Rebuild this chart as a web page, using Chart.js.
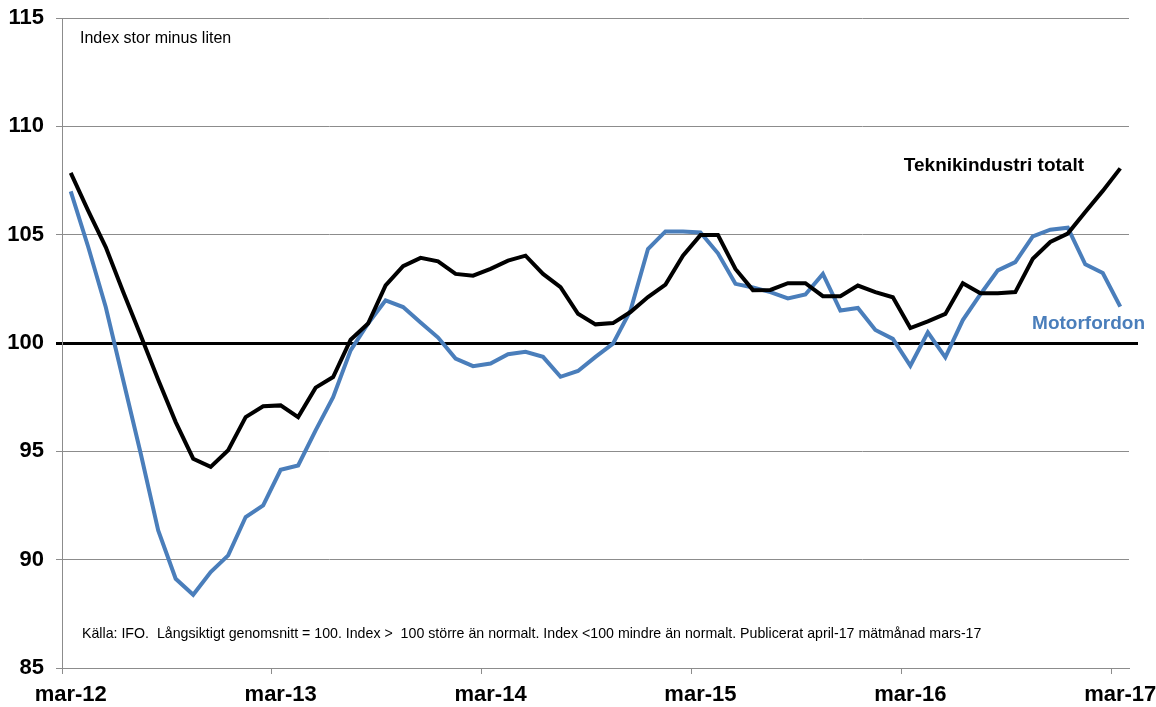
<!DOCTYPE html>
<html>
<head>
<meta charset="utf-8">
<script src="https://cdn.jsdelivr.net/npm/chart.js@4.4.1/dist/chart.umd.min.js"></script>
<style>
  html, body { margin: 0; padding: 0; background: #fff; }
  #wrap { position: relative; width: 1156px; height: 707px; }
</style>
</head>
<body>
<div id="wrap"><canvas id="ifo_chart" width="1156" height="707"></canvas></div>
<script>
// manader mar-12 .. mar-17
var month_names = ['jan','feb','mar','apr','maj','jun','jul','aug','sep','okt','nov','dec'];
var months = [];
for (var y = 12; y <= 17; y++) {
    for (var m = 0; m < 12; m++) {
        if (y == 12 && m < 2) continue;
        if (y == 17 && m > 2) continue;
        months.push(month_names[m] + '-' + y);
    }
}

var teknik_totalt = [
    107.85, 106.1, 104.43, 102.35, 100.35, 98.3, 96.35, 94.66, 94.28, 95.05,
    96.58, 97.08, 97.12, 96.58, 97.94, 98.43, 100.15, 100.9, 102.66, 103.55,
    103.93, 103.77, 103.19, 103.11, 103.42, 103.8, 104.03, 103.19, 102.58, 101.35,
    100.86, 100.92, 101.43, 102.12, 102.7, 104.03, 104.98, 104.98, 103.42, 102.44,
    102.45, 102.76, 102.76, 102.16, 102.16, 102.65, 102.35, 102.11, 100.69, 101.0,
    101.34, 102.76, 102.3, 102.3, 102.35, 103.89, 104.66, 105.05, 106.05, 107.02,
    108.06
];
var motorfordon = [
    107.0, 104.43, 101.66, 98.28, 94.9, 91.35, 89.12, 88.38, 89.43, 90.2,
    91.97, 92.5, 94.15, 94.35, 95.97, 97.5, 99.66, 100.9, 101.97, 101.66,
    100.95, 100.25, 99.28, 98.93, 99.05, 99.48, 99.59, 99.36, 98.44, 98.71,
    99.36, 99.97, 101.5, 104.34, 105.15, 105.15, 105.1, 104.14, 102.73, 102.56,
    102.35, 102.06, 102.24, 103.19, 101.5, 101.62, 100.6, 100.19, 98.95, 100.49,
    99.34, 101.06, 102.24, 103.35, 103.73, 104.92, 105.23, 105.32, 103.63, 103.23,
    101.68
];
var y_ticks = [85, 90, 95, 100, 105, 110, 115];

var blue = '#4a7ebb';
var grey = '#8c8c8c';

// texter i diagrammet
var text_plugin = {
    id: 'texts',
    afterDraw: function(chart) {
        var ctx = chart.ctx;
        var area = chart.chartArea;
        var ys = chart.scales.y;
        ctx.save();
        // 100-linjen fortsatter lite till hoger
        var y100 = Math.round(ys.getPixelForValue(100) - 1.5) + 1.5;
        ctx.strokeStyle = '#000';
        ctx.lineWidth = 3;
        ctx.beginPath();
        ctx.moveTo(area.right - 1, y100);
        ctx.lineTo(area.right + 9, y100);
        ctx.stroke();

        ctx.fillStyle = '#000';
        ctx.textBaseline = 'alphabetic';
        ctx.font = '16px "Liberation Sans", Arial, sans-serif';
        ctx.textAlign = 'left';
        ctx.fillText('Index stor minus liten', 80, 43);

        ctx.font = '14.2px "Liberation Sans", Arial, sans-serif';
        ctx.fillText('Källa: IFO.  Långsiktigt genomsnitt = 100. Index >  100 större än normalt. Index <100 mindre än normalt. Publicerat april-17 mätmånad mars-17', 82, 638);

        ctx.font = 'bold 19px "Liberation Sans", Arial, sans-serif';
        ctx.textAlign = 'right';
        ctx.fillText('Teknikindustri totalt', 1084, 171);
        ctx.fillStyle = blue;
        ctx.fillText('Motorfordon', 1145, 329);
        ctx.restore();
    }
};

var ctx = document.getElementById('ifo_chart').getContext('2d');
var ifo_chart = new Chart(ctx, {
    type: 'line',
    data: {
        labels: months,
        datasets: [{
            label: 'Teknikindustri totalt',
            data: teknik_totalt,
            borderColor: '#000',
            borderWidth: 4,
            pointRadius: 0,
            tension: 0,
            order: 0,
        },{
            label: 'Motorfordon',
            data: motorfordon,
            borderColor: blue,
            borderWidth: 4,
            pointRadius: 0,
            tension: 0,
            order: 1,
        }]
    },
    options: {
        responsive: false,
        animation: false,
        layout: { padding: { left: 0, top: 18, right: 27, bottom: 0 } },
        plugins: {
            legend: { display: false },
            tooltip: { enabled: false },
        },
        scales: {
            x: {
                offset: true,
                afterFit: function(scale) {
                    scale.height = 39;
                    scale.paddingLeft = 0;
                    scale.paddingRight = 0;
                },
                border: { color: grey, width: 1 },
                grid: {
                    offset: true,
                    drawOnChartArea: false,
                    drawTicks: true,
                    tickLength: 6,
                    color: function(c) { return (c.index % 12 == 0) ? grey : 'rgba(0,0,0,0)'; },
                },
                ticks: {
                    autoSkip: false,
                    maxRotation: 0,
                    padding: 8,
                    color: '#000',
                    font: { family: '"Liberation Sans", Arial, sans-serif', size: 22, weight: 'bold' },
                    callback: function(val, i) { return (i % 12 == 0) ? months[i] : ''; },
                },
            },
            y: {
                min: 85,
                max: 115,
                afterFit: function(scale) {
                    scale.width = 62;
                    scale.paddingTop = 0;
                    scale.paddingBottom = 0;
                },
                afterBuildTicks: function(scale) {
                    scale.ticks = y_ticks.map(function(v) { return { value: v }; });
                },
                border: { color: grey, width: 1 },
                grid: {
                    drawTicks: true,
                    tickLength: 6,
                    color: function(c) { return (c.tick && c.tick.value == 100) ? '#000' : grey; },
                    lineWidth: function(c) { return (c.tick && c.tick.value == 100) ? 3 : 1; },
                },
                ticks: {
                    padding: 12,
                    color: '#000',
                    font: { family: '"Liberation Sans", Arial, sans-serif', size: 22, weight: 'bold' },
                },
            },
        },
    },
    plugins: [text_plugin],
});
</script>
</body>
</html>
